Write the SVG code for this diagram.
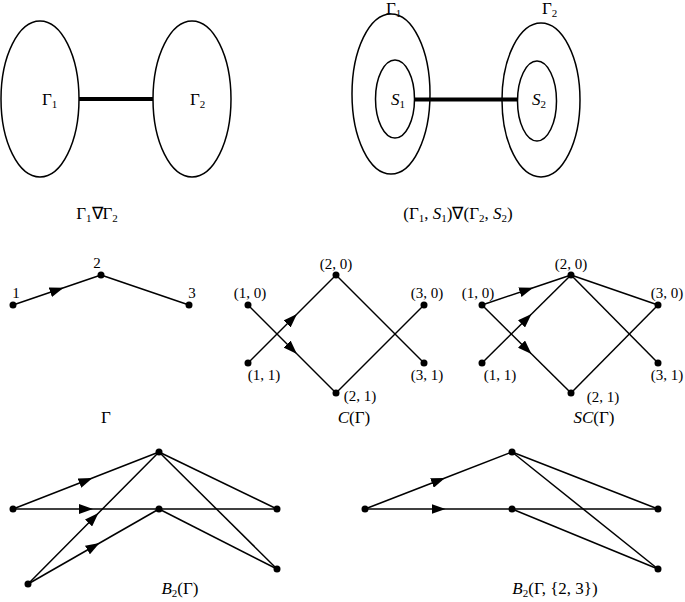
<svg xmlns="http://www.w3.org/2000/svg" width="685" height="602" viewBox="0 0 685 602">
<defs>
<style>
.sh{fill:none;stroke:#000;stroke-width:1.5}
.thick{fill:none;stroke:#000;stroke-width:4}
.e{fill:none;stroke:#000;stroke-width:1.5}
.ea{fill:none;stroke:#000;stroke-width:1.5;marker-mid:url(#ah)}
.d{fill:#000}
text{font-family:"Liberation Serif","Times New Roman",serif;font-size:17px;fill:#000}
.c{text-anchor:middle}
.lb{font-size:15px}
.i{font-style:italic}
.sub{font-size:11px}
</style>
<marker id="ah" viewBox="0 0 14 10" refX="7" refY="5" markerWidth="14" markerHeight="10" markerUnits="userSpaceOnUse" orient="auto">
<path d="M0,0 L14,5 L0,10 z" fill="#000"/>
</marker>
</defs>

<g id="join1">
<ellipse class="sh" cx="40" cy="99" rx="39" ry="78"/>
<ellipse class="sh" cx="192" cy="99" rx="39" ry="78"/>
<text x="42" y="105">Γ<tspan class="sub" dy="3">1</tspan></text>
<text x="190" y="105">Γ<tspan class="sub" dy="3">2</tspan></text>
<text class="c" x="97" y="219">Γ<tspan class="sub" dy="3">1</tspan><tspan dy="-3">∇Γ</tspan><tspan class="sub" dy="3">2</tspan></text>
</g>

<g id="join2">
<ellipse class="sh" cx="391" cy="94" rx="39" ry="80"/>
<ellipse class="sh" cx="541" cy="100" rx="39" ry="77"/>
<ellipse class="sh" cx="395" cy="99" rx="19.5" ry="39"/>
<ellipse class="sh" cx="537" cy="101" rx="19.5" ry="40"/>
<text x="386" y="14">Γ<tspan class="sub" dy="3">1</tspan></text>
<text x="542" y="14">Γ<tspan class="sub" dy="3">2</tspan></text>
<text class="i" x="391" y="105">S<tspan class="sub" font-style="normal" dy="3">1</tspan></text>
<text class="i" x="532" y="105">S<tspan class="sub" font-style="normal" dy="3">2</tspan></text>
<text class="c" x="458" y="219">(Γ<tspan class="sub" dy="3">1</tspan><tspan dy="-3">, </tspan><tspan class="i">S</tspan><tspan class="sub" dy="3">1</tspan><tspan dy="-3">)∇(Γ</tspan><tspan class="sub" dy="3">2</tspan><tspan dy="-3">, </tspan><tspan class="i">S</tspan><tspan class="sub" dy="3">2</tspan><tspan dy="-3">)</tspan></text>
</g>

<g id="connectors">
<line class="thick" x1="79" y1="99" x2="153" y2="99"/>
<line class="thick" x1="414" y1="99.5" x2="518" y2="99.5"/>
<path class="ea" d="M13,305 L57,290 L101,275"/>
<path class="e" d="M101,275 L189,305"/>
<path class="ea" d="M248,363 L292,319 L336,275"/>
<path class="ea" d="M248,305 L292,349 L336,393"/>
<path class="e" d="M336,275 L424,363"/>
<path class="e" d="M336,393 L424,305"/>
<path class="ea" d="M482,305 L526.5,290 L571,275"/>
<path class="ea" d="M482,363 L526.5,319 L571,275"/>
<path class="ea" d="M482,305 L526.5,349 L571,393"/>
<path class="e" d="M571,275 L658,305"/>
<path class="e" d="M571,275 L658,363"/>
<path class="e" d="M571,393 L658,305"/>
<path class="ea" d="M13,509 L86,480.5 L159,452"/>
<path class="ea" d="M13,509 L86,509 L159,509"/>
<path class="e" d="M159,509 L277,509"/>
<path class="ea" d="M28,584 L93.5,518 L159,452"/>
<path class="ea" d="M28,584 L93.5,546.5 L159,509"/>
<path class="e" d="M159,452 L277,509"/>
<path class="e" d="M159,452 L277,569"/>
<path class="e" d="M159,509 L277,569"/>
<path class="ea" d="M365,509 L438.5,480.5 L512,452"/>
<path class="ea" d="M365,509 L438.5,509 L512,509"/>
<path class="e" d="M512,509 L658,509"/>
<path class="e" d="M512,452 L658,509"/>
<path class="e" d="M512,452 L658,569"/>
<path class="e" d="M512,509 L658,569"/>
</g>

<g id="gamma">
<circle class="d" cx="13" cy="305" r="3.5"/>
<circle class="d" cx="101" cy="275" r="3.5"/>
<circle class="d" cx="189" cy="305" r="3.5"/>
<text class="c lb" x="16" y="298">1</text>
<text class="c lb" x="97" y="268">2</text>
<text class="c lb" x="192" y="298">3</text>
<text class="c" x="106" y="423">Γ</text>
</g>

<g id="cgamma">
<circle class="d" cx="336" cy="275" r="3.5"/>
<circle class="d" cx="248" cy="305" r="3.5"/>
<circle class="d" cx="248" cy="363" r="3.5"/>
<circle class="d" cx="336" cy="393" r="3.5"/>
<circle class="d" cx="424" cy="305" r="3.5"/>
<circle class="d" cx="424" cy="363" r="3.5"/>
<text class="c lb" x="336" y="269">(2, 0)</text>
<text class="c lb" x="250" y="298">(1, 0)</text>
<text class="c lb" x="427" y="298">(3, 0)</text>
<text class="c lb" x="264" y="380">(1, 1)</text>
<text class="c lb" x="427" y="380">(3, 1)</text>
<text class="c lb" x="360" y="401">(2, 1)</text>
<text class="c" x="354" y="423"><tspan class="i">C</tspan>(Γ)</text>
</g>

<g id="scgamma">
<circle class="d" cx="571" cy="275" r="3.5"/>
<circle class="d" cx="482" cy="305" r="3.5"/>
<circle class="d" cx="482" cy="363" r="3.5"/>
<circle class="d" cx="571" cy="393" r="3.5"/>
<circle class="d" cx="658" cy="305" r="3.5"/>
<circle class="d" cx="658" cy="363" r="3.5"/>
<text class="c lb" x="571" y="269">(2, 0)</text>
<text class="c lb" x="478" y="298">(1, 0)</text>
<text class="c lb" x="667" y="298">(3, 0)</text>
<text class="c lb" x="500" y="380">(1, 1)</text>
<text class="c lb" x="667" y="380">(3, 1)</text>
<text class="c lb" x="603" y="402">(2, 1)</text>
<text class="c" x="594" y="423"><tspan class="i">SC</tspan>(Γ)</text>
</g>

<g id="b2gamma">
<circle class="d" cx="159" cy="452" r="3.5"/>
<circle class="d" cx="13" cy="509" r="3.5"/>
<circle class="d" cx="159" cy="509" r="3.5"/>
<circle class="d" cx="277" cy="509" r="3.5"/>
<circle class="d" cx="28" cy="584" r="3.5"/>
<circle class="d" cx="277" cy="569" r="3.5"/>
<text class="c" x="180" y="594"><tspan class="i">B</tspan><tspan class="sub" dy="3">2</tspan><tspan dy="-3">(Γ)</tspan></text>
</g>

<g id="b2gamma23">
<circle class="d" cx="512" cy="452" r="3.5"/>
<circle class="d" cx="365" cy="509" r="3.5"/>
<circle class="d" cx="512" cy="509" r="3.5"/>
<circle class="d" cx="658" cy="509" r="3.5"/>
<circle class="d" cx="658" cy="569" r="3.5"/>
<text class="c" x="555" y="594"><tspan class="i">B</tspan><tspan class="sub" dy="3">2</tspan><tspan dy="-3">(Γ, {2, 3})</tspan></text>
</g>
</svg>
